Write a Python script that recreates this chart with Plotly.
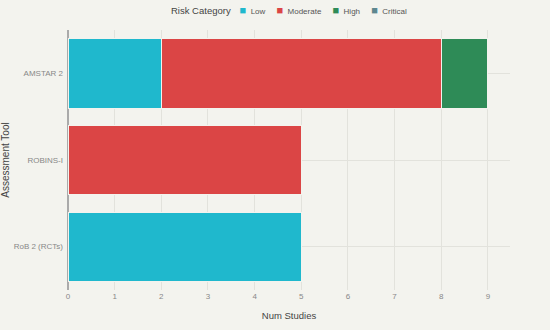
import plotly.graph_objects as go

tools = ["RoB 2 (RCTs)", "ROBINS-I", "AMSTAR 2"]
categories = ["Low", "Moderate", "High", "Critical"]
low = [5, 0, 2]
moderate = [0, 5, 6]
high = [0, 0, 1]
critical = [0, 0, 0]
colors = ["#1FB8CD", "#DB4545", "#2E8B57", "#5D878F"]
legend_title = "Risk Category"

series = [low, moderate, high, critical]

fig = go.Figure()
for name, vals, col in zip(categories, series, colors):
    fig.add_trace(go.Bar(
        y=tools, x=vals, name=name, orientation="h",
        marker=dict(color=col, line=dict(color="#F3F3EE", width=1)),
        showlegend=False,
    ))

# compact horizontal legend built from the category names and colours
nb = "\u00a0"
parts = [f"<span style='font-size:9.5px;color:#444444'>{legend_title}</span>" + nb * 4]
for name, col in zip(categories, colors):
    parts.append(f"<span style='color:{col};font-size:11px'>\u25A0</span>" + nb * 2 + name + nb * 5)
legend_text = "".join(parts).rstrip(nb)

bg = "#F3F3EE"
fig.update_layout(
    barmode="stack",
    bargap=0.2,
    width=550, height=330,
    paper_bgcolor=bg, plot_bgcolor=bg,
    font=dict(family="Liberation Sans, Arial, sans-serif", size=8, color="#777777"),
    margin=dict(l=68, r=40, t=30, b=40, autoexpand=False),
    showlegend=False,
    annotations=[dict(
        text=legend_text, showarrow=False,
        x=0.5, xref="paper", xanchor="center",
        y=(290 - 10) / 260, yref="paper", yanchor="middle",
        font=dict(size=8, color="#555555"),
    )],
    xaxis=dict(
        title=dict(text="Num Studies", font=dict(size=9.5, color="#444444"), standoff=12),
        showgrid=True, gridcolor="#E2E2DC", gridwidth=1,
        zeroline=True, zerolinecolor="#AAAAAA", zerolinewidth=2,
        dtick=1, tickfont=dict(size=8, color="#888888"),
        showline=False, automargin=False,
    ),
    yaxis=dict(
        title=dict(text="Assessment Tool", font=dict(size=10, color="#444444"), standoff=13),
        showgrid=True, gridcolor="#E2E2DC", gridwidth=1,
        tickfont=dict(size=8, color="#888888"),
        categoryorder="array", categoryarray=tools,
        ticks="", ticklabelstandoff=4, automargin=False,
    ),
)

fig.write_html(
    "out.html",
    config={"displayModeBar": False},
    post_script="document.body.style.margin='0';document.body.style.background='#F3F3EE';",
)
